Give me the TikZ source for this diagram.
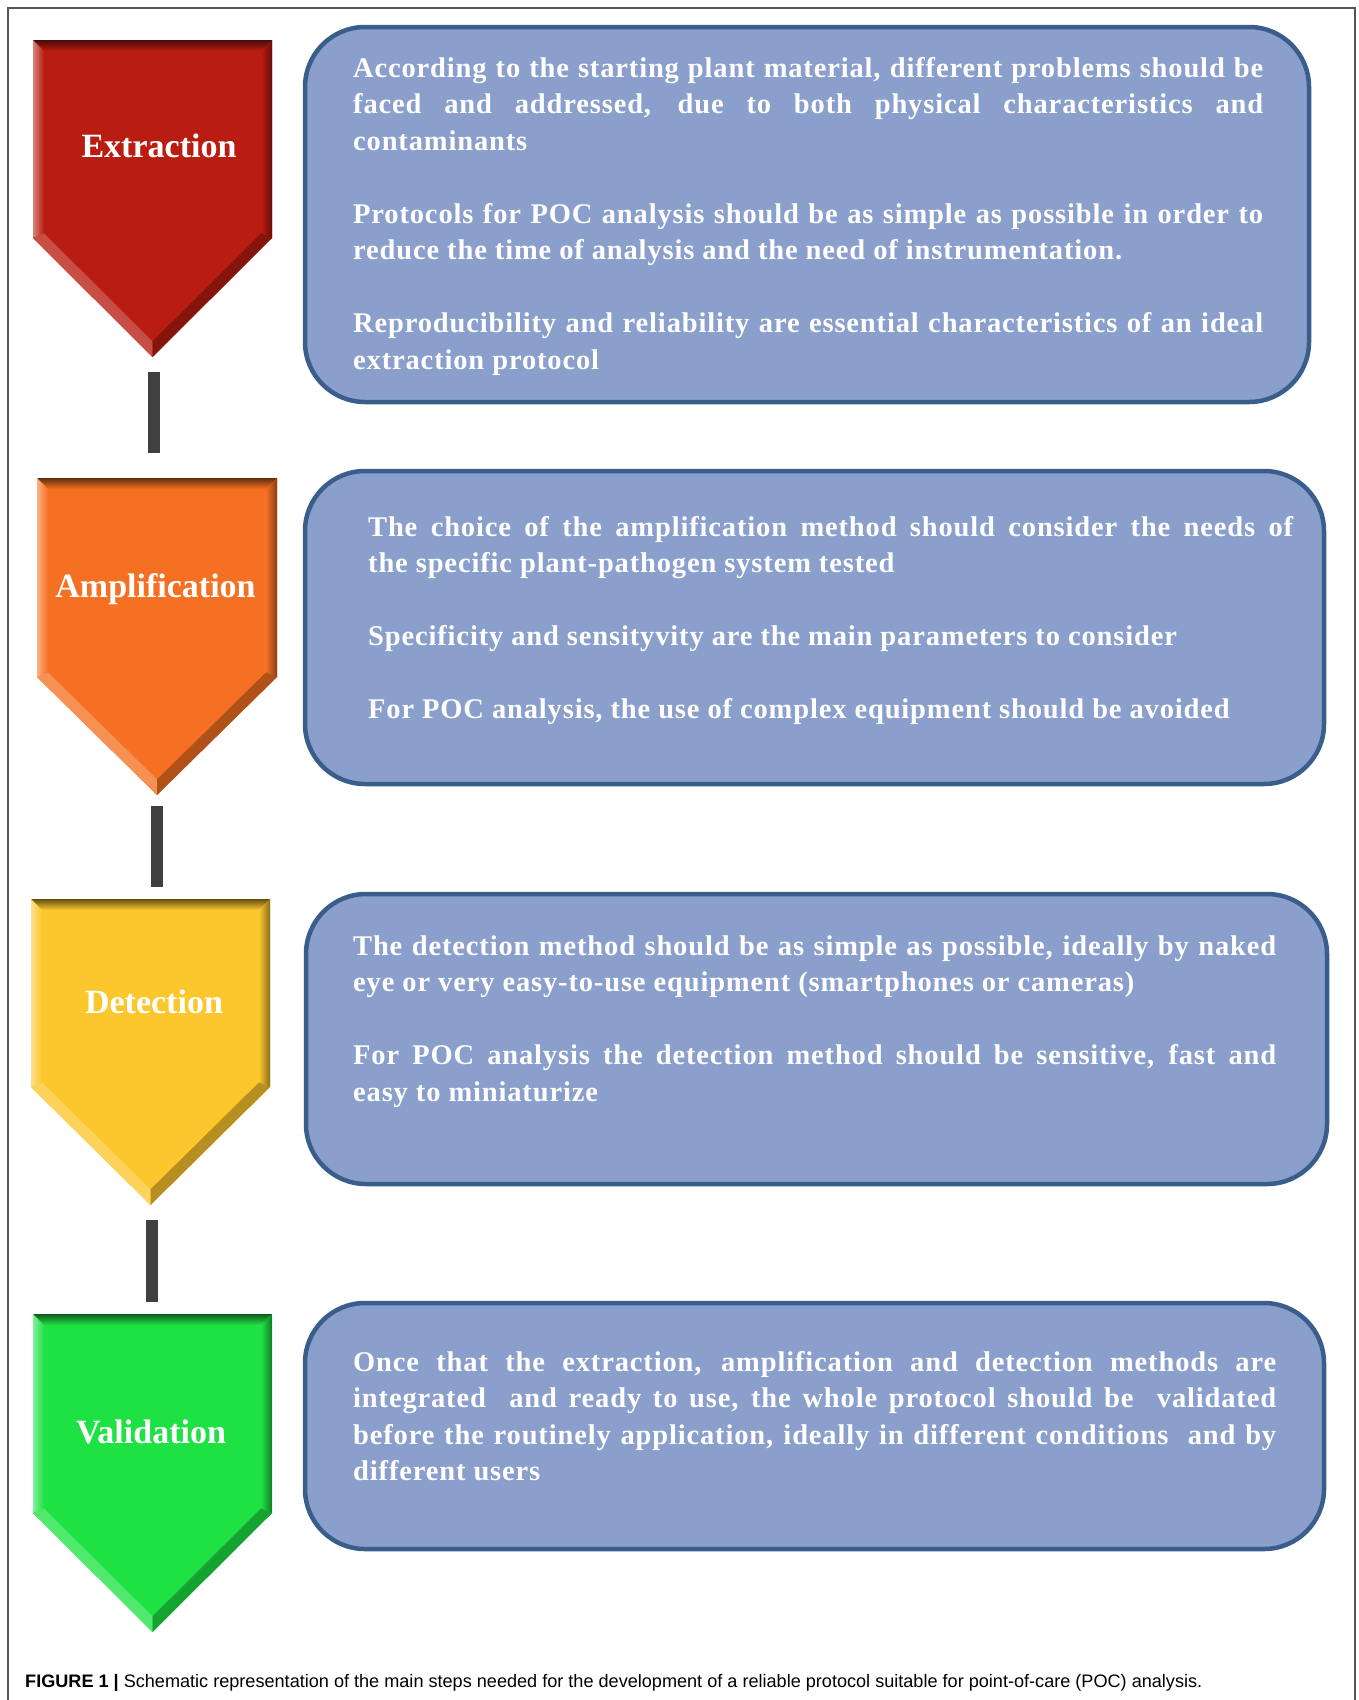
\documentclass[tikz,border=0pt]{standalone}
\usepackage{fontspec}
\setmainfont{Liberation Serif}
\newfontfamily\bodyfont[LetterSpace=3]{Liberation Serif}
\newfontfamily\labfont{Liberation Serif}
\newfontfamily\capfont{Liberation Sans}
\definecolor{cred}{HTML}{B91C11}
\definecolor{corange}{HTML}{F57023}
\definecolor{cyellow}{HTML}{FCC62D}
\definecolor{cgreen}{HTML}{1EE244}
\definecolor{boxfill}{HTML}{8A9FCB}
\definecolor{boxline}{HTML}{3A5E8C}
\definecolor{barcol}{HTML}{404040}
\definecolor{framecol}{HTML}{555555}
\newcommand\chevshape[6]{%
  \pgfmathsetmacro\cvM{(#1+#2)/2}%
  \pgfmathsetmacro\cvL{#1+11}%
  \pgfmathsetmacro\cvR{#2-11}%
  \pgfmathsetmacro\cvT{#3+11}%
  \pgfmathsetmacro\cvS{#4-4.6}%
  \pgfmathsetmacro\cvP{#5-15.6}%
  \fill[#6] (#1,#3) -- (#2,#3) -- (#2,#4) -- (\cvM,#5) -- (#1,#4) -- cycle;
  \shade[top color=#6!40!black, bottom color=#6] (#1,#3) -- (#2,#3) -- (\cvR,\cvT) -- (\cvL,\cvT) -- cycle;
  \shade[left color=#6!55!white, right color=#6] (#1,#3) -- (\cvL,\cvT) -- (\cvL,\cvS) -- (#1,#4) -- cycle;
  \shade[left color=#6, right color=#6!55!black] (#2,#3) -- (#2,#4) -- (\cvR,\cvS) -- (\cvR,\cvT) -- cycle;
  \fill[#6!78!white] (#1,#4) -- (\cvL,\cvS) -- (\cvM,\cvP) -- (\cvM,#5) -- cycle;
  \fill[#6!72!black] (#2,#4) -- (\cvM,#5) -- (\cvM,\cvP) -- (\cvR,\cvS) -- cycle;
}
\begin{document}
\begin{tikzpicture}[x=1pt,y=-1pt,
  infobox/.style={draw=boxline, line width=4.5pt, fill=boxfill, rounded corners=60pt, inner sep=0pt},
  steplabel/.style={anchor=base, inner sep=0pt, text=white, font=\labfont\bfseries\fontsize{34}{40}\selectfont},
  bodytext/.style={anchor=base west, inner sep=0pt, text=white},
  connbar/.style={draw=barcol, line width=12pt},
  captext/.style={anchor=base west, inner sep=0pt, text=black}]
\newcommand\btext[2]{\parbox[t]{#1pt}{\bodyfont\bfseries\fontsize{28.5}{36.5}\selectfont\parskip=0pt\tolerance=10000\hyphenpenalty=10000\exhyphenpenalty=10000\emergencystretch=0pt #2}}
\useasboundingbox (0,0) rectangle (1358,1700);
\fill[white] (0,0) rectangle (1358,1700);
\draw[framecol, line width=1.2pt] (8,1700) -- (8,8) -- (1355,8) -- (1355,1700);

% chevrons
\chevshape{33}{272}{40}{238}{357}{cred}
\chevshape{37}{277}{478}{677}{795}{corange}
\chevshape{31}{270}{899}{1087}{1205}{cyellow}
\chevshape{33}{272}{1314}{1513}{1632}{cgreen}

\node[steplabel] (l1) at (159,157) {Extraction};
\node[steplabel] (l2) at (155.5,597) {Amplification};
\node[steplabel] (l3) at (154,1013) {Detection};
\node[steplabel] (l4) at (151,1443) {Validation};

% connectors
\coordinate (c1a) at (154,372); \coordinate (c1b) at (154,453);
\coordinate (c2a) at (156.5,806); \coordinate (c2b) at (156.5,887);
\coordinate (c3a) at (151.5,1220); \coordinate (c3b) at (151.5,1302);
\draw[connbar] (c1a) -- (c1b);
\draw[connbar] (c2a) -- (c2b);
\draw[connbar] (c3a) -- (c3b);

% boxes
\node[infobox, minimum width=1004pt, minimum height=375pt] (b1) at (807,214.5) {};
\node[infobox, minimum width=1019pt, minimum height=313pt] (b2) at (814.5,627.5) {};
\node[infobox, minimum width=1021pt, minimum height=290pt] (b3) at (816.5,1039) {};
\node[infobox, minimum width=1019pt, minimum height=246pt] (b4) at (814.5,1426) {};

\node[bodytext] (t1) at (353,77) {\btext{910}{According to the starting plant material, different problems should be\linebreak
faced and addressed, due to both physical characteristics and\linebreak
contaminants\par\vskip 36.5pt
Protocols for POC analysis should be as simple as possible in order to\linebreak
reduce the time of analysis and the need of instrumentation.\par\vskip 36.5pt
Reproducibility and reliability are essential characteristics of an ideal\linebreak
extraction protocol}};

\node[bodytext] (t2) at (368,536) {\btext{925}{The choice of the amplification method should consider the needs of\linebreak
the specific plant-pathogen system tested\par\vskip 36.5pt
Specificity and sensityvity are the main parameters to consider\par\vskip 36.5pt
For POC analysis, the use of complex equipment should be avoided}};

\node[bodytext] (t3) at (353,955) {\btext{923}{The detection method should be as simple as possible, ideally by naked\linebreak
eye or very easy-to-use equipment (smartphones or cameras)\par\vskip 36.5pt
For POC analysis the detection method should be sensitive, fast and\linebreak
easy to miniaturize}};

\node[bodytext] (t4) at (353,1371) {\btext{923}{Once that the extraction, amplification and detection methods are\linebreak
integrated\ \ and ready to use, the whole protocol should be\ \ validated\linebreak
before the routinely application, ideally in different conditions\ \ and by\linebreak
different users}};

\node[captext] (cap) at (25,1687) {\capfont\fontsize{18.1}{22}\selectfont\textbf{FIGURE 1 |} Schematic representation of the main steps needed for the development of a reliable protocol suitable for point-of-care (POC) analysis.};
\end{tikzpicture}
\end{document}
